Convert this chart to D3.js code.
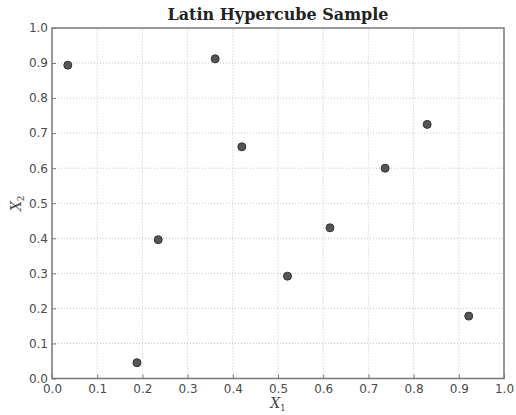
<!DOCTYPE html>
<html>
<head>
<meta charset="utf-8">
<style>
    body { margin: 0; background: #fff; }
    svg { display: block; }
    .tick text { font-family: 'DejaVu Sans', sans-serif; font-size: 12px; fill: #4a4a4a; }
</style>
</head>
<body>
<svg width="516" height="415"></svg>
<script src="https://d3js.org/d3.v7.min.js"></script>
<script>
    // sample points
    let x1Values = [0.035, 0.188, 0.235, 0.361, 0.420, 0.521, 0.615, 0.737, 0.830, 0.922];
    let x2Values = [0.894, 0.045, 0.396, 0.912, 0.661, 0.292, 0.430, 0.600, 0.725, 0.178];
    let tickValues = [0, 0.1, 0.2, 0.3, 0.4, 0.5, 0.6, 0.7, 0.8, 0.9, 1.0];

    let svg = d3.select("svg");
    let margin = { top: 28, right: 12, bottom: 36.5, left: 52 };
    let width = 516 - margin.left - margin.right;
    let height = 415 - margin.top - margin.bottom;

    let x = d3.scaleLinear().domain([0, 1]).range([margin.left, margin.left + width]);
    let y = d3.scaleLinear().domain([0, 1]).range([margin.top + height, margin.top]);

    // grid
    let grid = svg.append("g");
    grid.selectAll(".vgrid")
        .data(tickValues.slice(1, -1))
        .join("line")
        .attr("x1", d => x(d)).attr("x2", d => x(d))
        .attr("y1", y(0)).attr("y2", y(1))
        .attr("stroke", "#c4c4c4").attr("stroke-width", 1)
        .attr("stroke-dasharray", "1,2");
    grid.selectAll(".hgrid")
        .data(tickValues.slice(1, -1))
        .join("line")
        .attr("x1", x(0)).attr("x2", x(1))
        .attr("y1", d => y(d)).attr("y2", d => y(d))
        .attr("stroke", "#c4c4c4").attr("stroke-width", 1)
        .attr("stroke-dasharray", "1,2");

    // axes, ticks pointing in
    let xAxis = svg.append("g")
        .attr("transform", `translate(0,${y(0)})`)
        .call(d3.axisBottom(x).tickValues(tickValues).tickFormat(d3.format(".1f")).tickSizeInner(-4).tickSizeOuter(0).tickPadding(6));
    let yAxis = svg.append("g")
        .attr("transform", `translate(${x(0)},0)`)
        .call(d3.axisLeft(y).tickValues(tickValues).tickFormat(d3.format(".1f")).tickSizeInner(-4).tickSizeOuter(0).tickPadding(4));
    [xAxis, yAxis].forEach(a => {
        a.select(".domain").remove();
        a.selectAll(".tick line").attr("stroke", "#777");
    });

    // frame
    svg.append("rect")
        .attr("x", x(0)).attr("y", y(1))
        .attr("width", width).attr("height", height)
        .attr("fill", "none").attr("stroke", "#777").attr("stroke-width", 1.5);

    // points
    svg.append("g")
        .selectAll("circle")
        .data(x1Values.map((v, i) => [v, x2Values[i]]))
        .join("circle")
        .attr("cx", d => x(d[0]))
        .attr("cy", d => y(d[1]))
        .attr("r", 4)
        .attr("fill", "#555")
        .attr("stroke", "#333")
        .attr("stroke-width", 1);

    // title and labels
    svg.append("text")
        .attr("x", x(0.5)).attr("y", 20)
        .attr("text-anchor", "middle")
        .style("font-family", "'DejaVu Serif', serif")
        .style("font-weight", "bold")
        .style("font-size", "16px")
        .attr("fill", "#222")
        .text("Latin Hypercube Sample");

    let xl = svg.append("text")
        .attr("x", x(0.5)).attr("y", 408)
        .attr("text-anchor", "middle")
        .style("font-family", "'DejaVu Serif', serif")
        .style("font-style", "italic")
        .style("font-size", "14px")
        .attr("fill", "#444");
    xl.append("tspan").text("X");
    xl.append("tspan").attr("dy", 3).style("font-size", "9px").style("font-style", "normal").text("1");

    let yl = svg.append("text")
        .attr("transform", `translate(21,${y(0.5)}) rotate(-90)`)
        .attr("text-anchor", "middle")
        .style("font-family", "'DejaVu Serif', serif")
        .style("font-style", "italic")
        .style("font-size", "14px")
        .attr("fill", "#444");
    yl.append("tspan").text("X");
    yl.append("tspan").attr("dy", 3).style("font-size", "9px").style("font-style", "normal").text("2");
</script>
</body>
</html>
